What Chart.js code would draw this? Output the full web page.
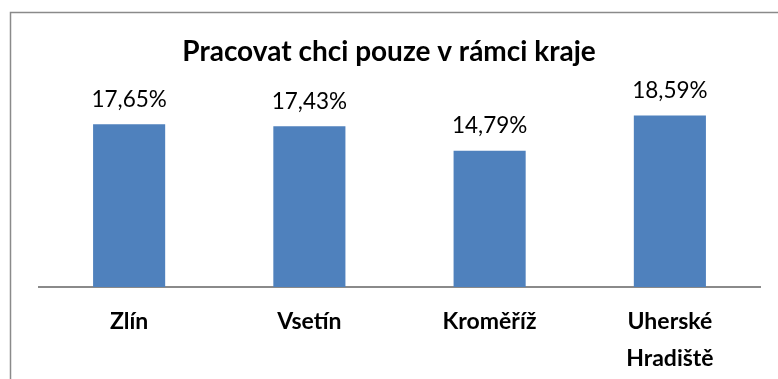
<!DOCTYPE html>
<html>
<head>
<meta charset="utf-8">
<script src="https://cdn.jsdelivr.net/npm/chart.js@4"></script>
<style>
  html, body { margin: 0; padding: 0; background: #fff; }
  canvas { display: block; }
</style>
</head>
<body>
<canvas id="chart" width="778" height="379"></canvas>
<script>
// regions and share of respondents (%)
const regions = ['Zlín', 'Vsetín', 'Kroměříž', ['Uherské', 'Hradiště']];
const shares = [17.65, 17.43, 14.79, 18.59];

const fmtPct = v => v.toFixed(2).replace('.', ',') + '%';

// thin frame around the whole chart object
const framePlugin = {
  id: 'frame',
  beforeDraw(chart) {
    const ctx = chart.ctx;
    ctx.save();
    ctx.strokeStyle = '#8a8a8a';
    ctx.lineWidth = 1.5;
    ctx.strokeRect(10.5, 12.5, 820, 420);
    ctx.restore();
  }
};

// value labels above each bar
const valueLabels = {
  id: 'valueLabels',
  afterDatasetsDraw(chart) {
    const ctx = chart.ctx;
    const meta = chart.getDatasetMeta(0);
    ctx.save();
    ctx.font = '22.5px Lato';
    ctx.fillStyle = '#000';
    ctx.textAlign = 'center';
    ctx.textBaseline = 'middle';
    meta.data.forEach((bar, i) => {
      ctx.fillText(fmtPct(shares[i]), bar.x, bar.y - 25);
    });
    ctx.restore();
  }
};

new Chart(document.getElementById('chart'), {
  type: 'bar',
  data: {
    labels: regions,
    datasets: [{
      data: shares,
      backgroundColor: '#4F81BD',
      borderWidth: 0,
      barPercentage: 0.4,
      categoryPercentage: 1
    }]
  },
  options: {
    responsive: false,
    animation: false,
    layout: { padding: { left: 18, right: 18, top: 0, bottom: 0 } },
    plugins: {
      legend: { display: false },
      tooltip: { enabled: false },
      title: {
        display: true,
        text: 'Pracovat chci pouze v rámci kraje',
        color: '#000',
        font: { family: 'Lato', size: 28, weight: 'bold', lineHeight: 1.2 },
        padding: { top: 35, bottom: 34 }
      }
    },
    scales: {
      x: {
        grid: { display: false },
        border: { display: true, color: '#8a8a8a', width: 2 },
        ticks: {
          color: '#000',
          font: { family: 'Lato', size: 23, weight: 'bold', lineHeight: 1.57 },
          padding: 9,
          maxRotation: 0,
          autoSkip: false
        },
        afterFit(scale) { scale.height = 92; }
      },
      y: {
        // hidden value axis, only reserves the left gap
        min: 0,
        max: 20,
        grid: { display: false },
        border: { display: false },
        ticks: { display: false },
        afterFit(scale) { scale.width = 21; }
      }
    }
  },
  plugins: [framePlugin, valueLabels]
});
</script>
</body>
</html>
